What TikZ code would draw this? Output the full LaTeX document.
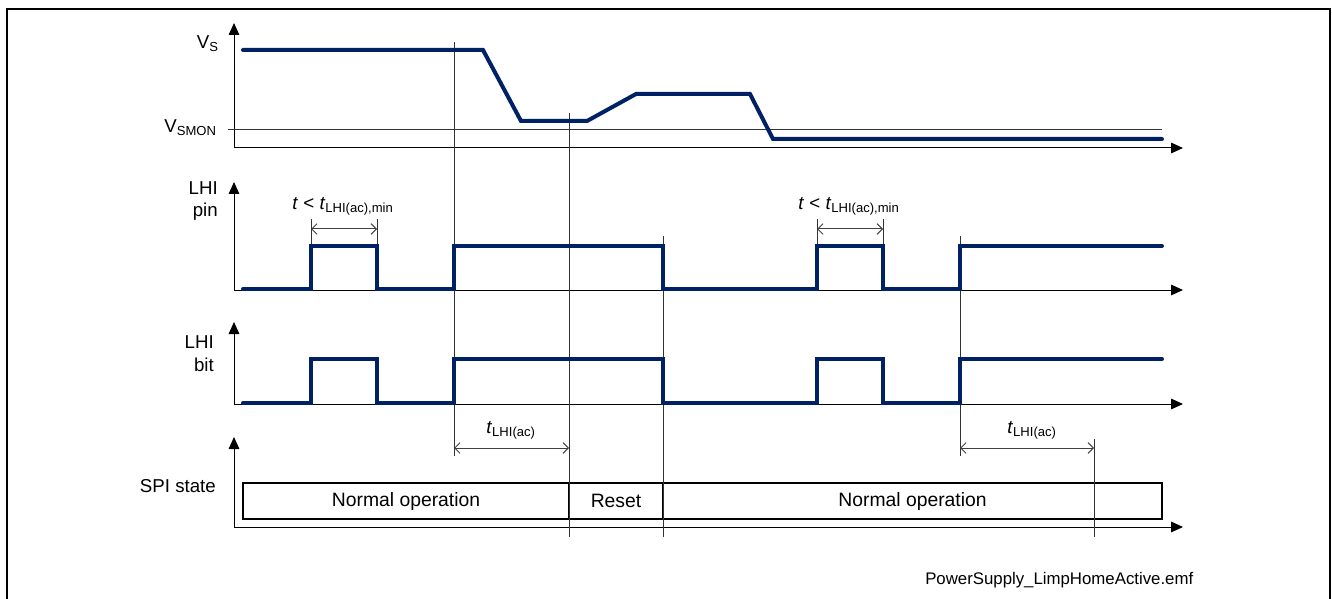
\documentclass[tikz,border=0pt]{standalone}
\usepackage{fontspec}
\setmainfont{Liberation Sans}
\usetikzlibrary{arrows.meta}
\definecolor{wave}{RGB}{0,33,99}
\begin{document}
\begin{tikzpicture}[x=0.75pt,y=-0.75pt,
  axis/.style={line width=0.75pt,-{Triangle[length=9pt,width=8pt]}},
  thin/.style={line width=0.75pt,black!80},
  dim/.style={line width=0.75pt,black!75,{Straight Barb[length=4pt,width=8pt]}-{Straight Barb[length=4pt,width=8pt]}},
  sig/.style={line width=3pt,wave,line join=miter,line cap=round},
  lbl/.style={font=\fontsize{14}{16}\selectfont,inner sep=0pt},
  cell/.style={draw,line width=1pt,minimum height=27pt,inner sep=0pt,font=\fontsize{14.5}{16}\selectfont}]
\useasboundingbox (0,0) rectangle (1332,599);
% frame
\draw[line width=1.1pt] (7,602) -- (7,9) -- (1330,9) -- (1330,602);
% axes
\draw[axis] (234,148) -- (234,23);
\draw[axis] (234,148) -- (1183,148);
\draw[axis] (234,290) -- (234,182);
\draw[axis] (234,290) -- (1183,290);
\draw[axis] (234,404) -- (234,322);
\draw[axis] (234,404) -- (1183,404);
\draw[axis] (234,527) -- (234,437);
\draw[axis] (234,527) -- (1183,527);
% threshold
\draw[thin] (228,130) -- (1162,130);
% labels
\node[lbl,anchor=east] (vs) at (219,44) {V\textsubscript{S}};
\node[lbl,anchor=east] (vsmon) at (217,128) {V\textsubscript{SMON}};
\node[lbl,anchor=east,align=right] (lhip) at (218,201) {LHI\\[1pt]pin};
\node[lbl,anchor=east,align=right] (lhib) at (214,354) {LHI\\[1pt]bit};
\node[lbl,anchor=east] (spi) at (216,486) {SPI state};
% SPI state boxes
\node[cell,minimum width=326*0.75pt] (n1) at (406,501) {Normal operation};
\node[cell,minimum width=94*0.75pt] (rs) at (616,501) {Reset};
\node[cell,minimum width=499*0.75pt] (n2) at (912.5,501) {Normal operation};
% vertical markers
\coordinate (a1) at (454,42);  \coordinate (a2) at (454,456);
\coordinate (b1) at (569,113); \coordinate (b2) at (569,537);
\coordinate (c1) at (663,236); \coordinate (c2) at (663,537);
\coordinate (d1) at (960,236); \coordinate (d2) at (960,456);
\coordinate (e1) at (1094,439); \coordinate (e2) at (1094,537);
\draw[thin] (a1) -- (a2);
\draw[thin] (b1) -- (b2);
\draw[thin] (c1) -- (c2);
\draw[thin] (d1) -- (d2);
\draw[thin] (e1) -- (e2);
% pulse ticks
\coordinate (p1) at (311,219); \coordinate (p2) at (377,219);
\coordinate (q1) at (817,219); \coordinate (q2) at (883,219);
\draw[thin] (p1) -- (311,246);
\draw[thin] (p2) -- (377,246);
\draw[thin] (q1) -- (817,246);
\draw[thin] (q2) -- (883,246);
% dimension arrows
\draw[dim] (311,229) -- (377,229);
\draw[dim] (817,229) -- (883,229);
\draw[dim] (454,448) -- (569,448);
\draw[dim] (960,448) -- (1094,448);
\node[lbl] (t1) at (343,206) {\textit{t} < \textit{t}\textsubscript{LHI(ac),min}};
\node[lbl] (t2) at (849,206) {\textit{t} < \textit{t}\textsubscript{LHI(ac),min}};
\node[lbl] (t3) at (511,430) {\textit{t}\textsubscript{LHI(ac)}};
\node[lbl] (t4) at (1032,430) {\textit{t}\textsubscript{LHI(ac)}};
% waveforms
\draw[sig] (243,50) -- (483,50) -- (521,121) -- (587,121) -- (636,94) -- (750,94) -- (773,139) -- (1162,139);
\draw[sig] (243,289) -- (311,289) -- (311,246) -- (377,246) -- (377,289) -- (454,289) -- (454,246) -- (663,246) -- (663,289) -- (817,289) -- (817,246) -- (883,246) -- (883,289) -- (960,289) -- (960,246) -- (1162,246);
\draw[sig] (243,403) -- (311,403) -- (311,359) -- (377,359) -- (377,403) -- (454,403) -- (454,359) -- (663,359) -- (663,403) -- (817,403) -- (817,359) -- (883,359) -- (883,403) -- (960,403) -- (960,359) -- (1162,359);
% file name
\node[lbl,anchor=west,font=\fontsize{12.6}{14}\selectfont] (fn) at (925,580) {PowerSupply\_LimpHomeActive.emf};
\end{tikzpicture}
\end{document}
